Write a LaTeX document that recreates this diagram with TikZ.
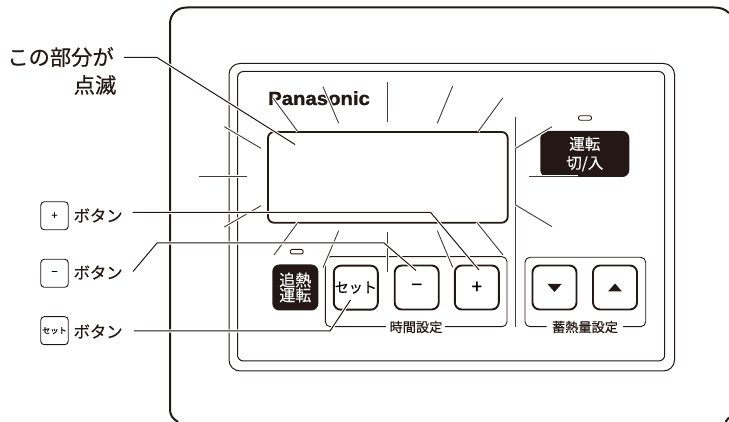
\documentclass[tikz,border=0pt]{standalone}
\usepackage{fontspec}
\newfontfamily\cjk[FakeBold=0.35]{Noto Sans CJK JP}
\newfontfamily\logofont[FakeBold=1.4,FakeStretch=1.07]{Liberation Sans Bold}
\definecolor{ink}{HTML}{231815}
\tikzset{
  ray/.style={draw=white,line width=3.2pt,postaction={draw=ink!85,line width=0.9pt}},
  leaderline/.style={draw=white,line width=3.2pt,postaction={draw=ink,line width=1pt}},
  frameline/.style={draw=ink,line width=1pt},
  keybtn/.style={draw=ink,line width=1.9pt,fill=white,rounded corners=7pt,minimum width=44pt,minimum height=44pt,inner sep=0pt,font=\cjk},
  blackbtn/.style={draw=none,fill=ink,rounded corners=7pt,inner sep=0pt,text=white,font=\cjk,align=center},
  legendkey/.style={draw=ink,line width=0.9pt,fill=white,rounded corners=3.5pt,minimum width=27.5pt,minimum height=28pt,inner sep=0pt,font=\cjk},
  btnlabel/.style={font=\cjk\fontsize{16.3}{17}\selectfont,text=ink,inner sep=0pt,anchor=west},
  grouplabel/.style={font=\cjk\fontsize{13.2}{14}\selectfont,text=ink,inner sep=0pt},
  led/.style={draw=ink,line width=0.9pt,fill=white,rounded corners=2pt,minimum width=13pt,minimum height=4.5pt,inner sep=0pt},
}
\begin{document}
\begin{tikzpicture}[x=1pt,y=-1pt]
\useasboundingbox (0,0) rectangle (729,422);
\fill[white] (0,0) rectangle (729,422);
% panel
\draw[ink,line width=2pt] (178,422) .. controls (173,419) and (170,415) .. (170,410) -- (170,24) .. controls (170,14) and (177,7.5) .. (187,7.5) -- (714,7.5) .. controls (720,7.5) and (725,9) .. (729,13);
\draw[ink,line width=2pt] (729,417.5) -- (725.5,422);
% frames
\draw[frameline,rounded corners=11pt] (229,63.5) rectangle (674.5,371);
\draw[frameline,rounded corners=6pt] (237.5,71.5) rectangle (664.7,361);
% logo
\node[font=\logofont\fontsize{19}{19}\selectfont,text=ink,inner sep=0pt,anchor=base west] (logo) at (268,105) {Panasonic};
% display
\draw[ink,line width=1.8pt,rounded corners=6pt] (268,132) rectangle (507.7,222.7);
% LEDs
\node[led] (ledl) at (296.7,251.7) {};
\node[led] (ledr) at (585,118) {};
% black buttons
\node[blackbtn,minimum width=46pt,minimum height=46pt,font=\cjk\fontsize{16}{15}\selectfont] (chase) at (295.3,287.5) {追熱\\運転};
\node[blackbtn,minimum width=89pt,minimum height=46pt,font=\cjk\fontsize{15.5}{19}\selectfont] (run) at (584.8,154) {運転\\切/入};
% groups
\draw[ink,line width=0.9pt,rounded corners=5pt] (386,326.7) -- (325.3,326.7) -- (325.3,256.7) -- (507,256.7) -- (507,326.7) -- (445,326.7);
\node[grouplabel] (timelabel) at (416,327) {時間設定};
\draw[ink,line width=0.9pt,rounded corners=5pt] (546.7,326.7) -- (525,326.7) -- (525,257.3) -- (645.7,257.3) -- (645.7,326.7) -- (623,326.7);
\node[grouplabel] (heatlabel) at (585,327) {蓄熱量設定};
% buttons
\node[keybtn] (bset) at (355.8,287.7) {\fontsize{14}{14}\selectfont セット};
\node[keybtn] (bminus) at (416.7,287.5) {\fontsize{19}{19}\selectfont −};
\node[keybtn] (bplus) at (476.8,287.5) {\fontsize{19}{19}\selectfont +};
\node[keybtn] (bdown) at (554.5,287.5) {};
\node[keybtn] (bup) at (615,287.5) {};
\fill[ink] (547.5,284) -- (561.5,284) -- (554.5,292) -- cycle;
\fill[ink] (608,291.5) -- (622,291.5) -- (615,283.5) -- cycle;
% rays
\draw[ray] (297.7,131.5) -- (273,98);
\draw[ray] (338.7,123.3) -- (323,86.7);
\draw[ray] (387.7,122) -- (387.7,82);
\draw[ray] (437.3,123.3) -- (452.7,86);
\draw[ray] (478,131.7) -- (502.7,98);
\draw[ray] (515.7,116.7) -- (515.7,326.7);
\draw[ray] (515.7,148.3) -- (552,126.7);
\draw[ray] (529,176.7) -- (577.5,176.7);
\draw[ray] (515.7,205) -- (552,226.7);
\draw[ray] (476.7,222.3) -- (503,255);
\draw[ray] (437.3,230.7) -- (452.7,267.3);
\draw[ray] (387.7,231.7) -- (387.7,271.7);
\draw[ray] (338.7,230.7) -- (323,267.7);
\draw[ray] (297.7,222.7) -- (274,255);
\draw[ray] (261,148.3) -- (224.3,126.7);
\draw[ray] (247,176.7) -- (199,176.7);
\draw[ray] (261,205.7) -- (224.3,227);
% legend
\node[font=\cjk\fontsize{21.3}{21}\selectfont,text=ink,inner sep=0pt,anchor=east] (blink1) at (114,57) {この部分が};
\node[font=\cjk\fontsize{21.3}{21}\selectfont,text=ink,inner sep=0pt,anchor=east] (blink2) at (116.5,85) {点滅};
\node[legendkey,font=\cjk\fontsize{11}{11}\selectfont] (kplus) at (54.5,215.8) {+};
\node[legendkey,font=\cjk\fontsize{11}{11}\selectfont] (kminus) at (54.5,273.3) {−};
\node[legendkey,font=\cjk\fontsize{8.3}{8}\selectfont] (kset) at (54.5,330.7) {セット};
\node[btnlabel] (lplus) at (73.5,215.5) {ボタン};
\node[btnlabel] (lminus) at (73.5,272.5) {ボタン};
\node[btnlabel] (lset) at (73.5,331.5) {ボタン};
% leaders
\coordinate (a1) at (124,57.5); \coordinate (a2) at (157,57.5); \coordinate (a3) at (295,144.5);
\coordinate (p1) at (132.5,212.5); \coordinate (p2) at (430.7,212.5); \coordinate (p3) at (479,270);
\coordinate (m1) at (133,271.5); \coordinate (m2) at (157,243); \coordinate (m3) at (384,243); \coordinate (m4) at (416,270.5);
\coordinate (s1) at (134,331); \coordinate (s2) at (330,331); \coordinate (s3) at (350.5,300);
\draw[leaderline] (a1) -- (a2) -- (a3);
\draw[leaderline] (p1) -- (p2) -- (p3);
\draw[leaderline] (m1) -- (m2) -- (m3) -- (m4);
\draw[leaderline] (s1) -- (s2) -- (s3);
\end{tikzpicture}
\end{document}
